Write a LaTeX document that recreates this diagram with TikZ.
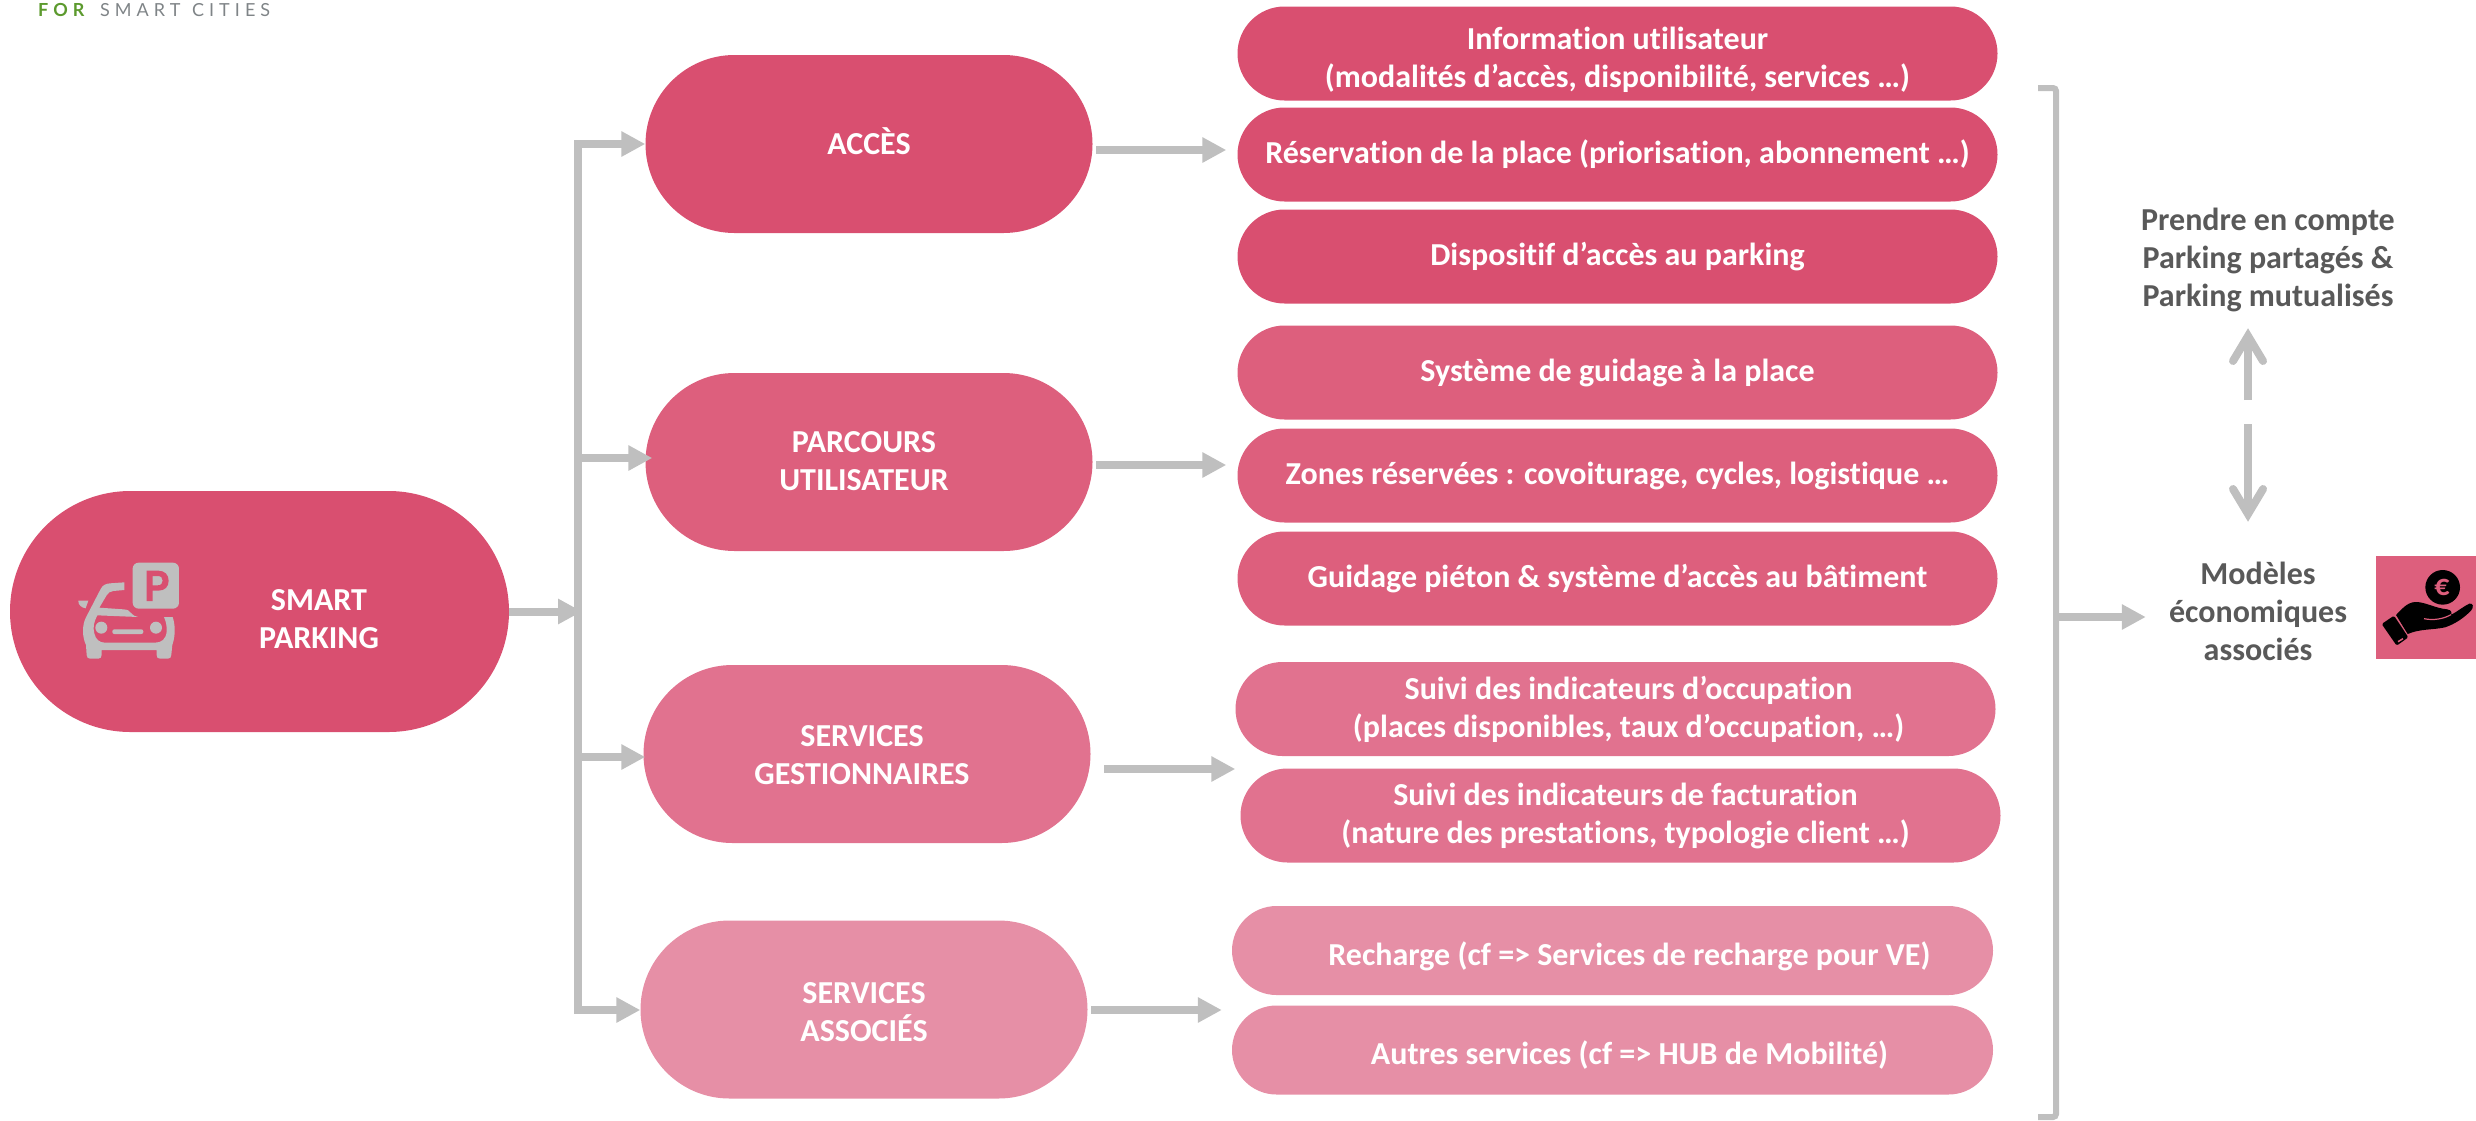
\documentclass[tikz,border=0pt]{standalone}
\usepackage{fontspec}
\setmainfont[Ligatures=NoCommon]{Carlito}
\newfontfamily\logofont[LetterSpace=28]{Lato}
\usetikzlibrary{arrows.meta}
\definecolor{pinkA}{HTML}{D94F70}
\definecolor{pinkB}{HTML}{DD5F7D}
\definecolor{pinkC}{HTML}{E1728F}
\definecolor{pinkD}{HTML}{E68FA6}
\definecolor{conn}{HTML}{BFBFBF}
\definecolor{darktxt}{HTML}{595959}
\definecolor{logogreen}{HTML}{5C9A2E}
\definecolor{logogray}{HTML}{7F8487}
\newcommand{\down}[1]{\rule{0pt}{#1pt}}
\newcommand{\lift}[1]{\rule[-#1pt]{0pt}{#1pt}}
\tikzset{
  x=1pt,y=-1pt,
  pillbase/.style={rectangle,inner sep=0pt,text=white,align=center,font=\fontsize{32}{38}\selectfont\bfseries},
  bigpill/.style={pillbase,minimum width=447pt,minimum height=178pt,rounded corners=89pt},
  smallpill/.style={pillbase,minimum width=760pt,minimum height=94pt,rounded corners=47pt},
  lowpill/.style={pillbase,minimum width=761pt,minimum height=89pt,rounded corners=44.5pt},
  connector/.style={draw=conn,line width=8pt,-{Triangle[length=24pt,width=24pt]}},
  plainline/.style={draw=conn,line width=8pt},
  openarrow/.style={draw=conn,line width=8pt,line cap=round,line join=miter},
  sidetext/.style={inner sep=0pt,text=darktxt,align=center,font=\fontsize{32}{38}\selectfont\bfseries},
}
\begin{document}
\begin{tikzpicture}
\useasboundingbox (0,0) rectangle (2476,1120);
% logo
\node[anchor=west,inner sep=0pt,font=\fontsize{18}{18}\selectfont\logofont] (logo) at (38,9.5) {\textcolor{logogreen}{\bfseries FOR}\hspace{6pt} \textcolor{logogray}{SMART\hspace{2pt} CITIES}};
% main pills
\node[pillbase,fill=pinkA,minimum width=499pt,minimum height=241pt,rounded corners=120.5pt] (smart) at (259.5,611.5) {};
\node[pillbase] (smartlabel) at (319,619) {SMART\\PARKING};
\node[bigpill,fill=pinkA] (acces) at (869,144) {\lift{6}ACCÈS};
\node[bigpill,fill=pinkB] (parcours) at (869,462) {\lift{0}PARCOURS\kern10pt\\UTILISATEUR\kern10pt\lift{3}};
\node[bigpill,fill=pinkC] (gest) at (867,754) {\down{24}SERVICES\kern10pt\\GESTIONNAIRES\kern10pt};
\node[bigpill,fill=pinkD] (assoc) at (864,1009.5) {\down{27}SERVICES\\ASSOCIÉS};
% right pills
\node[smallpill,fill=pinkA] (info) at (1617.5,53.5) {\down{36}Information utilisateur\\(modalités d’accès, disponibilité, services …)};
\node[smallpill,fill=pinkA] (resa) at (1617.5,154.5) {Réservation de la place (priorisation, abonnement …)};
\node[smallpill,fill=pinkA] (dispo) at (1617.5,256.5) {Dispositif d’accès au parking};
\node[smallpill,fill=pinkB] (guidage) at (1617.5,372.5) {Système de guidage à la place};
\node[smallpill,fill=pinkB] (zones) at (1617.5,475.5) {Zones réservées : covoiturage, cycles, logistique …};
\node[smallpill,fill=pinkB] (pieton) at (1617.5,578.5) {Guidage piéton \& système d’accès au bâtiment};
\node[smallpill,fill=pinkC] (suivia) at (1615.5,709) {\hspace*{26pt}Suivi des indicateurs d’occupation\\\hspace*{26pt}(places disponibles, taux d’occupation, …)};
\node[smallpill,fill=pinkC] (suivib) at (1620.5,815.5) {\hspace*{10pt}Suivi des indicateurs de facturation\\\hspace*{10pt}(nature des prestations, typologie client …)};
\node[lowpill,fill=pinkD] (recharge) at (1612.5,950.5) {\down{35}\hspace*{34pt}Recharge (cf => Services de recharge pour VE)};
\node[lowpill,fill=pinkD] (autres) at (1612.5,1050) {\down{33}\hspace*{34pt}Autres services (cf => HUB de Mobilité)};
% side texts
\node[sidetext] (prendre) at (2268,260) {Prendre en compte\\Parking partagés \&\\Parking mutualisés};
\node[sidetext] (modeles) at (2258,611.5) {Modèles\\économiques\\associés};
% trunk
\coordinate (tA) at (578,144);
\coordinate (tB) at (578,458);
\coordinate (tC) at (578,757);
\coordinate (tD) at (578,1010);
\draw[plainline] ([xshift=-4pt]tA) -- (tA) -- ([yshift=-4pt]tD);
\draw[connector] (smart.east) -- ([xshift=4pt]smart.east-|tA);
\draw[connector] (tA) -- (acces.west|-tA);
\draw[connector] (tB) -- ([xshift=7pt]parcours.west|-tB);
\draw[connector] (tC) -- ([xshift=2pt]gest.west|-tC);
\draw[connector] (tD) -- (assoc.west|-tD);
\draw[plainline] ([xshift=-4pt]tD) -- (tD);
% pill to details
\coordinate (ra) at (1096,150);
\coordinate (rb) at (1096,465);
\coordinate (rc) at (1104,769);
\coordinate (rd) at (1091,1010);
\draw[connector] (ra) -- ([xshift=-11pt]resa.west|-ra);
\draw[connector] (rb) -- ([xshift=-11pt]zones.west|-rb);
\draw[connector] (rc) -- ([xshift=-5pt]suivib.west|-rc);
\draw[connector] (rd) -- ([xshift=-10pt]autres.west|-rd);
% bracket
\coordinate (ba) at (2038,88);
\coordinate (bb) at (2056,88);
\coordinate (bc) at (2056,1117);
\coordinate (bd) at (2038,1117);
\coordinate (be) at (2056,617);
\draw[draw=conn,line width=6pt,rounded corners=3pt] (ba) -- (bb) -- (bc) -- (bd);
\draw[connector] (be) -- ([xshift=-23pt,yshift=-5.5pt]modeles.west);
% double arrow
\coordinate (ua) at (2248,400);
\coordinate (ub) at (2248,336);
\coordinate (da) at (2248,424);
\coordinate (db) at (2248,514);
\draw[draw=conn,line width=8pt] (ua) -- (ub);
\draw[openarrow] (2233,361) -- (ub) -- (2263,361);
\draw[draw=conn,line width=8pt] (da) -- (db);
\draw[openarrow] (2233,489) -- (db) -- (2263,489);
% car icon
\begin{scope}[shift={(60,540)},x=0.3333pt,y=-0.3333pt]
  \fill[conn,rounded corners=6pt] (218,68) rectangle (357,206);
  \fill[pinkA,even odd rule] (260,92) -- (295,92) .. controls (315,92) and (326,105) .. (326,122) .. controls (326,140) and (315,152) .. (295,152) -- (278,152) -- (278,183) -- (260,183) -- cycle
     (278,108) -- (278,136) -- (293,136) .. controls (303,136) and (308,130) .. (308,122) .. controls (308,113) and (303,108) .. (293,108) -- cycle;
  \fill[conn] (193,127) -- (193,150) -- (160,153) .. controls (150,154) and (145,158) .. (140,166) -- (118,203) -- (190,208) .. controls (205,209) and (207,212) .. (212,218) .. controls (218,226) and (225,229) .. (234,231) -- (112,226) .. controls (102,245) and (98,262) .. (103,280) .. controls (107,298) and (118,308) .. (135,308) -- (285,308) .. controls (305,308) and (318,297) .. (320,275) .. controls (321,258) and (318,245) .. (312,231) -- (338,231) .. controls (346,255) and (347,285) .. (337,315) -- (334,345) .. controls (334,352) and (330,356) .. (324,356) -- (300,356) .. controls (293,356) and (290,352) .. (290,345) -- (290,330) -- (125,330) -- (125,345) .. controls (125,352) and (121,356) .. (115,356) -- (90,356) .. controls (84,356) and (80,352) .. (80,345) -- (78,315) .. controls (66,290) and (66,255) .. (78,232) -- (122,147) .. controls (128,135) and (138,131) .. (150,130) -- cycle;
  \fill[conn] (55,182) -- (85,182) -- (77,205) .. controls (65,203) and (54,195) .. (55,182) -- cycle;
  \fill[conn] (124,263) circle[radius=18];
  \fill[conn] (288,263) circle[radius=18];
  \fill[conn,rounded corners=2pt] (157,268) rectangle (250,282);
\end{scope}
% euro hand icon
\fill[pinkB] (2376,556) rectangle (2476,659);
\begin{scope}[shift={(2370,550)},x=0.3333pt,y=-0.3333pt]
  \fill[black] (218,112) circle[radius=52];
  \fill[black] (78,195) .. controls (95,178) and (110,158) .. (135,156) .. controls (165,155) and (195,175) .. (232,178) .. controls (245,180) and (246,190) .. (244,194) .. controls (262,185) and (282,168) .. (298,161) .. controls (310,158) and (312,172) .. (303,182) .. controls (280,205) and (255,222) .. (225,232) .. controls (190,240) and (150,236) .. (113,252) -- cycle;
  \draw[pinkB,line width=1.2pt] (162,206) .. controls (190,212) and (220,207) .. (243,194);
  \fill[black,rounded corners=1.5pt] (35,222) -- (72,197) -- (115,262) -- (80,287) -- cycle;
  \draw[pinkB,line width=1.5pt] (84,275) -- (99,266);
\end{scope}
\node[inner sep=0pt,text=pinkB,font=\fontsize{30}{30}\selectfont\bfseries] (euro) at (2442,587) {€};
\end{tikzpicture}
\end{document}
